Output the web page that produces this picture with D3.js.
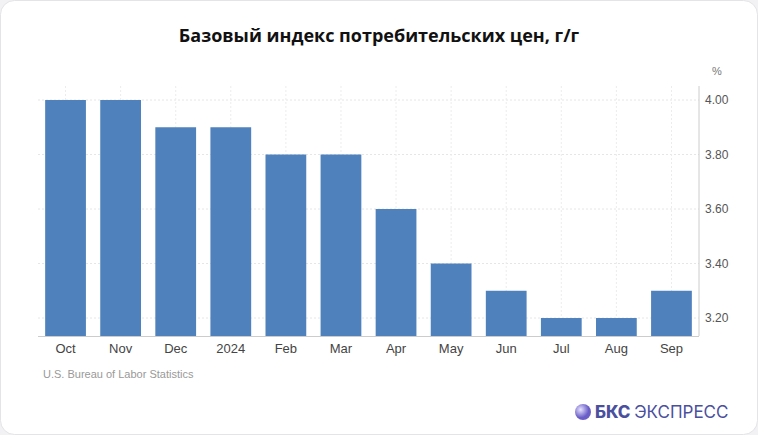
<!DOCTYPE html>
<html><head><meta charset="utf-8">
<script src="https://cdn.jsdelivr.net/npm/d3@7"></script>
<style>body{margin:0;background:#f2f2f4;font-family:Arial,"Liberation Sans",sans-serif}</style>
</head><body>
<script>
var months = ['Oct','Nov','Dec','2024','Feb','Mar','Apr','May','Jun','Jul','Aug','Sep'];
var values = [4.0,4.0,3.9,3.9,3.8,3.8,3.6,3.4,3.3,3.2,3.2,3.3];
var ticks = [3.2,3.4,3.6,3.8,4.0];

var svg = d3.select('body').append('svg').attr('width',758).attr('height',435);
svg.append('rect').attr('x',0.5).attr('y',0.5).attr('width',757).attr('height',434)
  .attr('rx',14).attr('fill','#fff').attr('stroke','#e3e3e8');

svg.append('text').attr('x',379).attr('y',42).attr('text-anchor','middle')
  .attr('font-family','"Open Sans",sans-serif').attr('font-weight',700).attr('font-size',18)
  .attr('fill','#111').text('Базовый индекс потребительских цен, г/г');

var x = d3.scaleBand().domain(months).range([38,699]).paddingInner(0.26).paddingOuter(0.13);
var y = d3.scaleLinear().domain([3.134,4.0]).range([336,100]);

var g = svg.append('g');
g.selectAll('.gy').data(ticks).enter().append('line')
  .attr('x1',38).attr('x2',699).attr('y1',d=>y(d)).attr('y2',d=>y(d))
  .attr('stroke','#e6e6e6').attr('stroke-dasharray','2,2');
g.selectAll('.gx').data(months).enter().append('line')
  .attr('x1',d=>x(d)+x.bandwidth()/2).attr('x2',d=>x(d)+x.bandwidth()/2)
  .attr('y1',86).attr('y2',336).attr('stroke','#ececec').attr('stroke-dasharray','2,2');

g.selectAll('.bar').data(values).enter().append('rect')
  .attr('x',(d,i)=>x(months[i])).attr('width',x.bandwidth())
  .attr('y',d=>y(d)).attr('height',d=>336-y(d)).attr('fill','#4f81bd');

svg.append('line').attr('x1',38).attr('x2',699).attr('y1',336.5).attr('y2',336.5).attr('stroke','#ccc');

var ya = d3.axisRight(y).tickValues(ticks).tickFormat(d3.format('.2f')).tickSize(0).tickPadding(6);
var ga = svg.append('g').attr('transform','translate(699,0)').call(ya);
ga.select('.domain').attr('stroke','#ccc').attr('d','M0,86V336');
ga.selectAll('text').attr('font-size',12).attr('fill','#555').attr('font-family','Arial,"Liberation Sans",sans-serif');
svg.append('text').attr('x',717).attr('y',75).attr('text-anchor','middle').attr('font-size',11).attr('fill','#777').text('%');

var xa = d3.axisBottom(x).tickSize(0).tickPadding(8);
var gx = svg.append('g').attr('transform','translate(0,336)').call(xa);
gx.select('.domain').remove();
gx.selectAll('text').attr('font-size',13).attr('fill','#444').attr('font-family','Arial,"Liberation Sans",sans-serif');

svg.append('text').attr('x',43).attr('y',378).attr('font-size',11).attr('fill','#999').text('U.S. Bureau of Labor Statistics');

var grad = svg.append('defs').append('radialGradient').attr('id','lg').attr('cx','35%').attr('cy','35%');
grad.append('stop').attr('offset','0%').attr('stop-color','#e6e2ff');
grad.append('stop').attr('offset','100%').attr('stop-color','#6b5fc7');
svg.append('circle').attr('cx',583).attr('cy',412).attr('r',8).attr('fill','url(#lg)');
var t = svg.append('text').attr('x',595).attr('y',418).attr('font-size',17).attr('fill','#4a4f9e')
  .attr('font-family','Inter,sans-serif');
t.append('tspan').attr('font-weight',800).text('БКС ');
t.append('tspan').attr('font-weight',400).text('ЭКСПРЕСС');
</script>
</body></html>
